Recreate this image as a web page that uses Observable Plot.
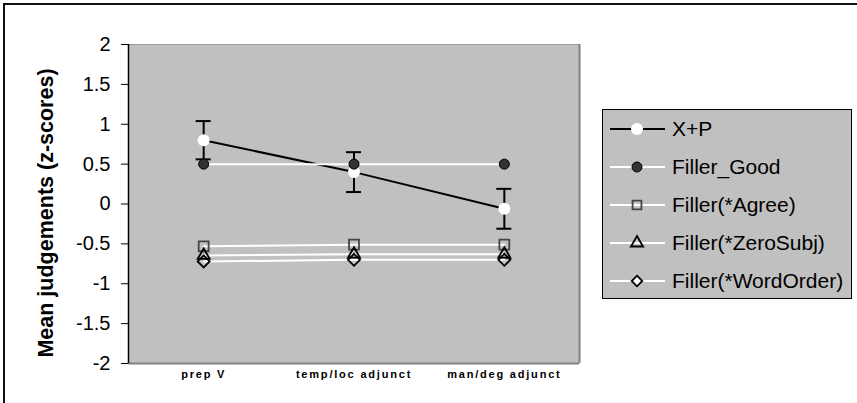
<!DOCTYPE html>
<html>
<head>
<meta charset="utf-8">
<script src="https://cdn.jsdelivr.net/npm/d3@7"></script>
<script src="https://cdn.jsdelivr.net/npm/@observablehq/plot@0.6"></script>
<style>
  html, body { margin: 0; padding: 0; background: #fff; }
  #wrap { position: relative; width: 857px; height: 403px; overflow: hidden; font-family: "Liberation Sans", Arial, sans-serif; }
  #outer { position: absolute; left: 3px; top: 3px; right: -5px; bottom: -5px; border-left: 2px solid #111; border-top: 2px solid #111; }
  #chart { position: absolute; left: 0; top: 0; }
  #chart g[aria-label="x-axis tick label"] text { letter-spacing: 1.8px; }
  #ylabel { position: absolute; left: 46px; top: 213px; transform: translate(-50%, -50%) rotate(-90deg); white-space: nowrap; font-weight: bold; font-size: 21.5px; color: #000; }
  #legend { position: absolute; left: 602px; top: 109px; width: 248px; height: 188px; background: #c0c0c0; border: 1.5px solid #000; }
  .lrow { position: absolute; left: 0; height: 38px; width: 100%; }
  .lrow svg { position: absolute; left: 5px; top: 0; }
  .lrow span { position: absolute; left: 69px; top: 50%; transform: translateY(-52%); font-size: 21px; white-space: nowrap; color: #000; }
</style>
</head>
<body>
<div id="wrap">
  <div id="outer"></div>
  <div id="chart"></div>
  <div id="ylabel">Mean judgements (z-scores)</div>
  <div id="legend"></div>
</div>
<script>
// ---- data ----
const categories = ["prep V", "temp/loc adjunct", "man/deg adjunct"];
const seriesNames = ["X+P", "Filler_Good", "Filler(*Agree)", "Filler(*ZeroSubj)", "Filler(*WordOrder)"];
const xpMean = [0.80, 0.40, -0.06];
const xpErr = [0.24, 0.25, 0.25];
const fillerGood = [0.50, 0.50, 0.50];
const fillerAgree = [-0.53, -0.51, -0.51];
const fillerZeroSubj = [-0.645, -0.63, -0.63];
const fillerWordOrder = [-0.72, -0.70, -0.70];
const yTicks = [-2, -1.5, -1, -0.5, 0, 0.5, 1, 1.5, 2];

// ---- tables ----
const rows = (vals) => categories.map((c, i) => ({x: i + 0.5, cat: c, y: vals[i]}));
const xp = categories.map((c, i) => ({x: i + 0.5, cat: c, y: xpMean[i], lo: xpMean[i] - xpErr[i], hi: xpMean[i] + xpErr[i]}));
const good = rows(fillerGood);
const agree = rows(fillerAgree);
const zero = rows(fillerZeroSubj);
const word = rows(fillerWordOrder);
const capHalf = 0.05;
const xDomain = [0, categories.length];
const yDomain = [yTicks[0], yTicks[yTicks.length - 1]];

const chart = Plot.plot({
  width: 857,
  height: 403,
  marginLeft: 128,
  marginTop: 44,
  marginRight: 278,
  marginBottom: 40,
  style: {fontFamily: "'Liberation Sans', Arial, sans-serif", background: "transparent", overflow: "visible", color: "#000"},
  x: {domain: xDomain},
  y: {domain: yDomain},
  marks: [
    Plot.frame({fill: "#c0c0c0", stroke: "none"}),
    Plot.ruleY([yDomain[1]], {stroke: "#999", strokeWidth: 1}),
    Plot.ruleY([yDomain[0]], {stroke: "#808080", strokeWidth: 2}),
    Plot.ruleX([xDomain[1]], {stroke: "#808080", strokeWidth: 2}),
    Plot.ruleX([xDomain[0]], {stroke: "#000", strokeWidth: 1.5}),
    Plot.axisY({ticks: yTicks, tickFormat: d => String(d), tickSize: 7, tickPadding: 11, fontSize: 20, label: null, stroke: "#000"}),
    Plot.axisX({ticks: categories.map((c, i) => i + 0.5), tickFormat: v => categories[Math.floor(v)], tickSize: 0, tickPadding: 7, fontSize: 11, fontWeight: "bold", label: null}),
    // X+P
    Plot.line(xp, {x: "x", y: "y", stroke: "#000", strokeWidth: 2}),
    Plot.ruleX(xp, {x: "x", y1: "lo", y2: "hi", stroke: "#000", strokeWidth: 2}),
    Plot.ruleY(xp, {x1: d => d.x - capHalf, x2: d => d.x + capHalf, y: "lo", stroke: "#000", strokeWidth: 2}),
    Plot.ruleY(xp, {x1: d => d.x - capHalf, x2: d => d.x + capHalf, y: "hi", stroke: "#000", strokeWidth: 2}),
    Plot.dot(xp, {x: "x", y: "y", r: 6, fill: "#fff", stroke: "none"}),
    // Filler_Good
    Plot.line(good, {x: "x", y: "y", stroke: "#fff", strokeWidth: 2}),
    Plot.dot(good, {x: "x", y: "y", r: 5, fill: "#333", stroke: "#000", strokeWidth: 1}),
    // Agree
    Plot.line(agree, {x: "x", y: "y", stroke: "#fff", strokeWidth: 2}),
    Plot.dot(agree, {x: "x", y: "y", symbol: "square", r: 5.6, fill: "none", stroke: "#444", strokeWidth: 1.8}),
    // ZeroSubj
    Plot.line(zero, {x: "x", y: "y", stroke: "#fff", strokeWidth: 2}),
    Plot.dot(zero, {x: "x", y: "y", symbol: "triangle", r: 4.5, fill: "none", stroke: "#000", strokeWidth: 1.8}),
    // WordOrder
    Plot.line(word, {x: "x", y: "y", stroke: "#fff", strokeWidth: 2}),
    Plot.dot(word, {x: "x", y: "y", symbol: "diamond2", r: 5.4, fill: "none", stroke: "#000", strokeWidth: 1.8})
  ]
});
document.getElementById("chart").appendChild(chart);

// ---- legend ----
const legendStyles = [
  {line: "#000", sym: d3.symbolCircle, r: 6, fill: "#fff", stroke: "none", sw: 0},
  {line: "#fff", sym: d3.symbolCircle, r: 5, fill: "#333", stroke: "#000", sw: 1},
  {line: "#fff", sym: d3.symbolSquare, r: 5, fill: "none", stroke: "#444", sw: 1.8},
  {line: "#fff", sym: d3.symbolTriangle, r: 4.5, fill: "none", stroke: "#000", sw: 1.8},
  {line: "#fff", sym: d3.symbolDiamond2, r: 4.8, fill: "#fff", stroke: "#000", sw: 1.8}
];
const legend = document.getElementById("legend");
seriesNames.forEach((name, i) => {
  const st = legendStyles[i];
  const row = document.createElement("div");
  row.className = "lrow";
  row.style.top = (i * 38) + "px";
  const svg = d3.create("svg").attr("width", 60).attr("height", 38);
  svg.append("line").attr("x1", 2).attr("x2", 57).attr("y1", 19).attr("y2", 19).attr("stroke", st.line).attr("stroke-width", 2);
  svg.append("path").attr("transform", "translate(29,19)")
    .attr("d", d3.symbol(st.sym, st.r * st.r * Math.PI)())
    .attr("fill", st.fill).attr("stroke", st.stroke).attr("stroke-width", st.sw);
  row.appendChild(svg.node());
  const span = document.createElement("span");
  span.textContent = name;
  row.appendChild(span);
  legend.appendChild(row);
});
</script>
</body>
</html>
